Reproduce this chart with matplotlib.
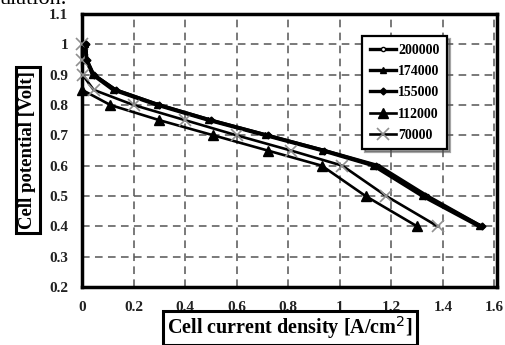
import matplotlib
matplotlib.use("Agg")  # headless
import matplotlib.pyplot as plt

# cell voltage levels [V]
v_top = [1.0, 0.95, 0.9, 0.85, 0.8, 0.75, 0.7, 0.65, 0.6, 0.5, 0.4]
v_112000 = [0.85, 0.8, 0.75, 0.7, 0.65, 0.6, 0.5, 0.4]

# current density [A/cm2] per series
i_200000 = [0.015, 0.018, 0.045, 0.13, 0.30, 0.50, 0.72, 0.94, 1.15, 1.34, 1.55]
i_174000 = [0.012, 0.016, 0.040, 0.12, 0.29, 0.49, 0.71, 0.93, 1.13, 1.32, 1.54]
i_155000 = [0.015, 0.018, 0.045, 0.13, 0.30, 0.50, 0.72, 0.94, 1.14, 1.33, 1.55]
i_112000 = [0.0, 0.11, 0.30, 0.51, 0.72, 0.93, 1.10, 1.30]
i_70000 = [0.0, 0.0, 0.002, 0.045, 0.20, 0.40, 0.60, 0.81, 1.01, 1.18, 1.38]

x_ticks = [0, 0.2, 0.4, 0.6, 0.8, 1, 1.2, 1.4, 1.6]
y_ticks = [0.2, 0.3, 0.4, 0.5, 0.6, 0.7, 0.8, 0.9, 1, 1.1]

SERIF = "Liberation Serif"


def main() -> None:
    fig = plt.figure(figsize=(5.06, 3.45), dpi=100)
    ax = fig.add_axes([82 / 506, 58 / 345, 415 / 506, 273 / 345])

    ax.plot(i_200000, v_top, color="black", lw=2.4, marker="o", ms=3,
            mfc="white", mec="black", label="200000", zorder=3)
    ax.plot(i_174000, v_top, color="black", lw=2.4, marker="^", ms=4.5,
            label="174000", zorder=4)
    ax.plot(i_155000, v_top, color="black", lw=2.4, marker="D", ms=3.5,
            label="155000", zorder=5)
    ax.plot(i_112000, v_112000, color="black", lw=1.9, marker="^", ms=7.5,
            label="112000", zorder=4, clip_on=False)
    ax.plot(i_70000, v_top, color="black", lw=1.9, marker="x", ms=9,
            mec="#909090", mew=1.2, label="70000", zorder=4, clip_on=False)

    ax.set_xlim(0, 1.61)
    ax.set_ylim(0.2, 1.1)
    tick_font = dict(family=SERIF, fontweight="bold", fontsize=11,
                     color="#222222")
    ax.set_xticks(x_ticks)
    ax.set_xticklabels([f"{t:g}" for t in x_ticks], **tick_font)
    ax.set_yticks(y_ticks)
    ax.set_yticklabels([f"{t:g}" for t in y_ticks], **tick_font)
    ax.tick_params(length=0, pad=10)

    ax.grid(True, color="#555555", lw=1.1, linestyle=(0, (5, 3.5)))
    for sp in ax.spines.values():
        sp.set_linewidth(2.5)

    leg = ax.legend(loc="upper right", bbox_to_anchor=(0.887, 0.93),
                    prop={"family": SERIF, "weight": "bold", "size": 10},
                    fancybox=False, shadow=True, edgecolor="black",
                    handlelength=1.9, handletextpad=0.15, labelspacing=0.6,
                    borderpad=0.55, borderaxespad=0.2, framealpha=1)
    leg.get_frame().set_linewidth(1.6)

    box = dict(boxstyle="square,pad=0.2", fc="white", ec="black", lw=2.2)
    fig.text(28 / 506, 1 - 150 / 345, "Cell potential [Volt]", rotation=90,
             ha="center", va="center", family=SERIF, weight="bold",
             fontsize=13.5, bbox=box)
    fig.text(290 / 506, 1 - 328 / 345, "Cell current density [A/cm$^2$]",
             ha="center", va="center", family=SERIF, weight="bold",
             fontsize=14.5, bbox=box)

    # clipped body text from the source document
    fig.text(0.0, 1 - 4 / 345, "ulation.", ha="left", va="baseline",
             family=SERIF, fontsize=16)

    fig.savefig("out.png", dpi=100)
    plt.close(fig)


if __name__ == "__main__":
    main()
